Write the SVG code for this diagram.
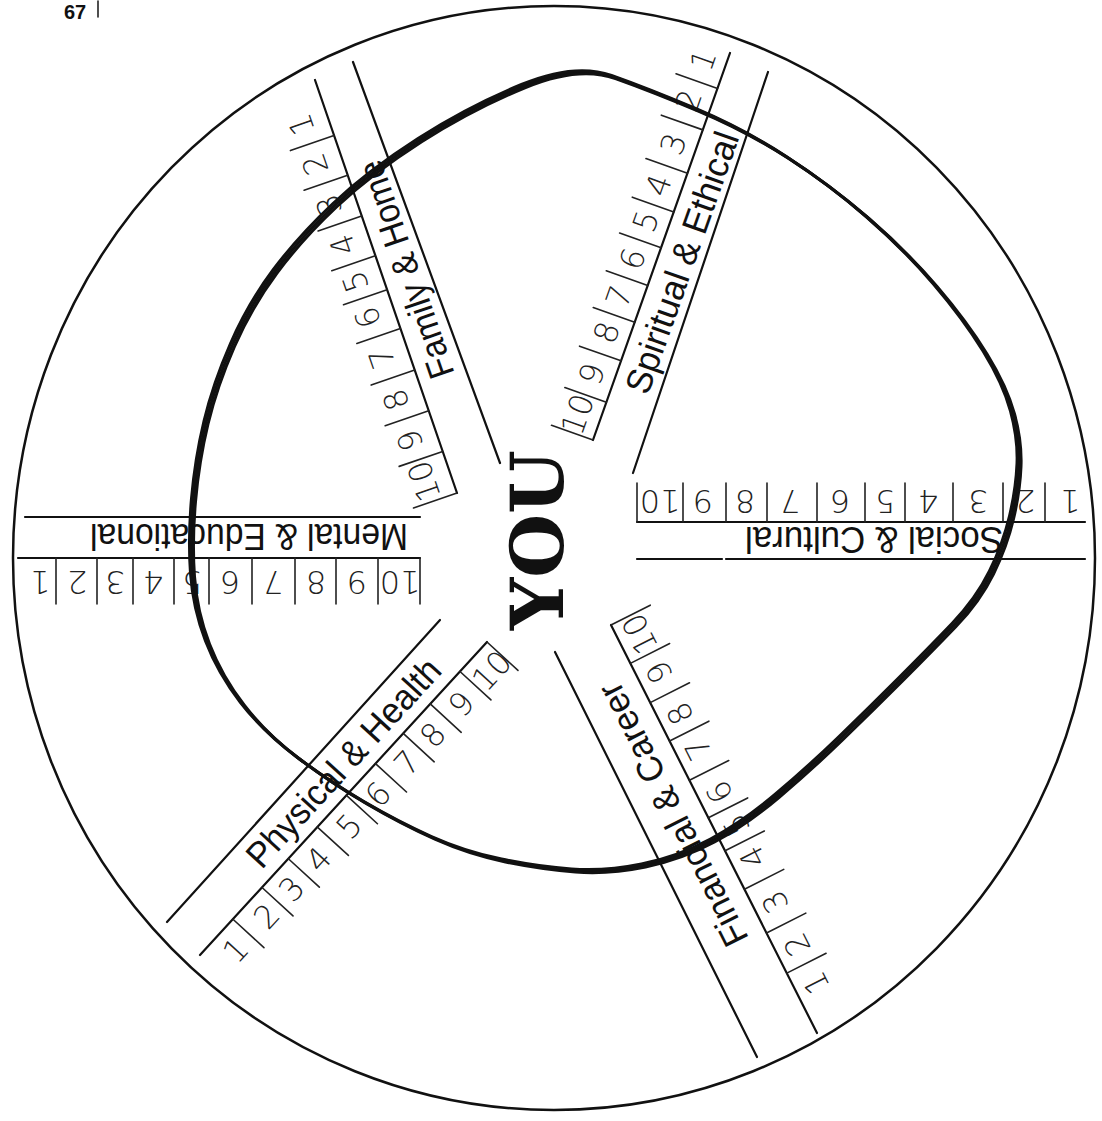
<svg xmlns="http://www.w3.org/2000/svg" width="1102" height="1121" viewBox="0 0 1102 1121">
<style>
.ln{stroke:#111;stroke-width:2.2;fill:none;stroke-linecap:round}
.tk{stroke:#222;stroke-width:1.6;fill:none;stroke-linecap:round}
.lbl{font-family:"Liberation Sans",Arial,sans-serif;font-size:36px;fill:#111;text-anchor:middle}
.num{font-family:"DejaVu Sans","Liberation Sans",sans-serif;font-size:32px;font-weight:200;fill:#222;text-anchor:middle}
.blob{fill:none;stroke:#111;stroke-linejoin:round}
</style>
<rect width="1102" height="1121" fill="#fff"/>
<g id="page-mark">
<text x="64" y="19" font-family="Liberation Sans,sans-serif" font-weight="bold" font-size="20" fill="#111">67</text>
<line x1="98" y1="1" x2="98" y2="17" class="tk"/>
</g>
<ellipse id="outer-circle" cx="554" cy="558" rx="541" ry="552" fill="none" stroke="#111" stroke-width="2.5"/>

<g id="mental-educational">
<path class="ln" d="M420 517 H25 M420 558 H18"/>
<path class="tk" d="M420 558V604 M378 558V604 M336 558V604 M295 558V604 M252 558V604 M209 558V604 M174 558V604 M133 558V604 M97 558V604 M56 558V604"/>
<text class="lbl" textLength="318" lengthAdjust="spacingAndGlyphs" transform="translate(249,537) rotate(180)" y="13">Mental &amp; Educational</text>
<g class="num">
<text transform="translate(400,583) rotate(180)" y="12">10</text>
<text transform="translate(357,583) rotate(180)" y="12">9</text>
<text transform="translate(316,583) rotate(180)" y="12">8</text>
<text transform="translate(273,583) rotate(180)" y="12">7</text>
<text transform="translate(230,583) rotate(180)" y="12">6</text>
<text transform="translate(192,583) rotate(180)" y="12">5</text>
<text transform="translate(153,583) rotate(180)" y="12">4</text>
<text transform="translate(115,583) rotate(180)" y="12">3</text>
<text transform="translate(77,583) rotate(180)" y="12">2</text>
<text transform="translate(40,583) rotate(180)" y="12">1</text>
</g>
</g>

<g id="social-cultural">
<path class="ln" d="M637 522 H1085 M637 559 H722 M726 559 H1085"/>
<path class="tk" d="M637 522V483 M683 522V483 M726 522V483 M767 522V483 M817 522V483 M865 522V483 M905 522V483 M953 522V483 M1003 522V483 M1045 522V483"/>
<text class="lbl" textLength="258" lengthAdjust="spacingAndGlyphs" transform="translate(874,540) rotate(180)" y="13">Social &amp; Cultural</text>
<g class="num">
<text transform="translate(660,502) rotate(180)" y="12">10</text>
<text transform="translate(703,502) rotate(180)" y="12">9</text>
<text transform="translate(745,502) rotate(180)" y="12">8</text>
<text transform="translate(790,502) rotate(180)" y="12">7</text>
<text transform="translate(840,502) rotate(180)" y="12">6</text>
<text transform="translate(885,502) rotate(180)" y="12">5</text>
<text transform="translate(928,502) rotate(180)" y="12">4</text>
<text transform="translate(978,502) rotate(180)" y="12">3</text>
<text transform="translate(1025,502) rotate(180)" y="12">2</text>
<text transform="translate(1070,502) rotate(180)" y="12">1</text>
</g>
</g>

<g id="family-home">
<path class="ln" d="M457 493 L315 80 M500 463 L353 62"/>
<g transform="translate(457,493) rotate(-109)">
<path class="tk" d="M0 0V-46 M44 0V-46 M87 0V-46 M130 0V-46 M174 0V-46 M215 0V-46 M251 0V-46 M293 0V-46 M336 0V-46 M378 0V-46"/>
<text class="lbl" textLength="228" lengthAdjust="spacingAndGlyphs" transform="translate(228,24)" y="13">Family &amp; Home</text>
<g class="num">
<text transform="translate(22,-28)" y="12">10</text>
<text transform="translate(65,-28)" y="12">9</text>
<text transform="translate(108,-28)" y="12">8</text>
<text transform="translate(152,-28)" y="12">7</text>
<text transform="translate(195,-28)" y="12">6</text>
<text transform="translate(233,-28)" y="12">5</text>
<text transform="translate(272,-28)" y="12">4</text>
<text transform="translate(314,-28)" y="12">3</text>
<text transform="translate(357,-28)" y="12">2</text>
<text transform="translate(399,-28)" y="12">1</text>
</g>
</g>
</g>

<g id="spiritual-ethical">
<path class="ln" d="M593 440 L730 53 M633 473 L768 72"/>
<g transform="translate(593,440) rotate(-70.5)">
<path class="tk" d="M0 0V-44 M40 0V-44 M84 0V-44 M125 0V-44 M164 0V-44 M204 0V-44 M242 0V-44 M283 0V-44 M329 0V-44 M373 0V-44"/>
<text class="lbl" textLength="275" lengthAdjust="spacingAndGlyphs" transform="translate(197,24)" y="13">Spiritual &amp; Ethical</text>
<g class="num">
<text transform="translate(19,-24)" y="12">10</text>
<text transform="translate(62,-24)" y="12">9</text>
<text transform="translate(106,-24)" y="12">8</text>
<text transform="translate(144,-24)" y="12">7</text>
<text transform="translate(184,-24)" y="12">6</text>
<text transform="translate(224,-24)" y="12">5</text>
<text transform="translate(262,-24)" y="12">4</text>
<text transform="translate(306,-24)" y="12">3</text>
<text transform="translate(352,-24)" y="12">2</text>
<text transform="translate(395,-24)" y="12">1</text>
</g>
</g>
</g>

<g id="physical-health">
<path class="ln" d="M487 642 L200 955 M440 620 L167 922"/>
<g transform="translate(487,642) rotate(132.5)">
<path class="tk" d="M0 0V-42 M40 0V-42 M84 0V-42 M124 0V-42 M165 0V-42 M208 0V-42 M251 0V-42 M294 0V-42 M333 0V-42 M376 0V-42"/>
<text class="lbl" textLength="269" lengthAdjust="spacingAndGlyphs" transform="translate(186,25) rotate(180)" y="13">Physical &amp; Health</text>
<g class="num">
<text transform="translate(18,-22) rotate(180)" y="12">10</text>
<text transform="translate(63,-22) rotate(180)" y="12">9</text>
<text transform="translate(105,-22) rotate(180)" y="12">8</text>
<text transform="translate(143,-22) rotate(180)" y="12">7</text>
<text transform="translate(186,-22) rotate(180)" y="12">6</text>
<text transform="translate(229,-22) rotate(180)" y="12">5</text>
<text transform="translate(274,-22) rotate(180)" y="12">4</text>
<text transform="translate(314,-22) rotate(180)" y="12">3</text>
<text transform="translate(351,-22) rotate(180)" y="12">2</text>
<text transform="translate(397,-22) rotate(180)" y="12">1</text>
</g>
</g>
</g>

<g id="financial-career">
<path class="ln" d="M611 625 L817 1033 M555 652 L757 1057"/>
<g transform="translate(611,625) rotate(63.2)">
<path class="tk" d="M0 0V-44 M43 0V-44 M87 0V-44 M130 0V-44 M174 0V-44 M216 0V-44 M253 0V-44 M296 0V-44 M345 0V-44 M390 0V-44"/>
<text class="lbl" textLength="290" lengthAdjust="spacingAndGlyphs" transform="translate(197,31) rotate(180)" y="13">Financial &amp; Career</text>
<g class="num">
<text transform="translate(21,-21) rotate(180)" y="12">10</text>
<text transform="translate(64,-21) rotate(180)" y="12">9</text>
<text transform="translate(110,-21) rotate(180)" y="12">8</text>
<text transform="translate(150,-21) rotate(180)" y="12">7</text>
<text transform="translate(198,-21) rotate(180)" y="12">6</text>
<text transform="translate(235,-21) rotate(180)" y="12">5</text>
<text transform="translate(271,-21) rotate(180)" y="12">4</text>
<text transform="translate(321,-21) rotate(180)" y="12">3</text>
<text transform="translate(369,-21) rotate(180)" y="12">2</text>
<text transform="translate(412,-21) rotate(180)" y="12">1</text>
</g>
</g>
</g>

<g id="you">
<text transform="translate(563,540) rotate(-90)" text-anchor="middle" font-family="DejaVu Serif,Liberation Serif,serif" font-weight="bold" font-size="72" textLength="180" lengthAdjust="spacingAndGlyphs" fill="#111">YOU</text>
</g>

<g id="rating-curve">
<path id="blobpath" class="blob" stroke-width="3" d="M523.5 86 Q577 64 613.5 77 Q650 90 697.5 110 Q745 130 787.5 157.5 Q830 185 867.5 217.5 Q905 250 935 285 Q965 320 985 352.5 Q1005 385 1012.5 412.5 Q1020 440 1019 465 Q1018 490 1011.5 517.5 Q1005 545 991.5 572.5 Q978 600 954 625 Q930 650 900 680 Q870 710 840 739 Q810 768 777.5 795.5 Q745 823 712.5 840.5 Q680 858 643.5 865.5 Q607 873 573.5 870.5 Q540 868 503.5 860.5 Q467 853 433.5 838 Q400 823 365 802.5 Q330 782 297.5 757.5 Q265 733 242.5 704 Q220 675 207.5 642.5 Q195 610 192.5 575 Q190 540 193.5 500 Q197 460 206 422.5 Q215 385 232.5 345 Q250 305 275 271.5 Q300 238 335 205 Q370 172 420 140 Q470 108 523.5 86 Z"/>
<use href="#blobpath" transform="translate(2,1.5)" stroke-width="1.4"/>
<use href="#blobpath" transform="translate(-2,-1.5)" stroke-width="1.4"/>
</g>
</svg>
